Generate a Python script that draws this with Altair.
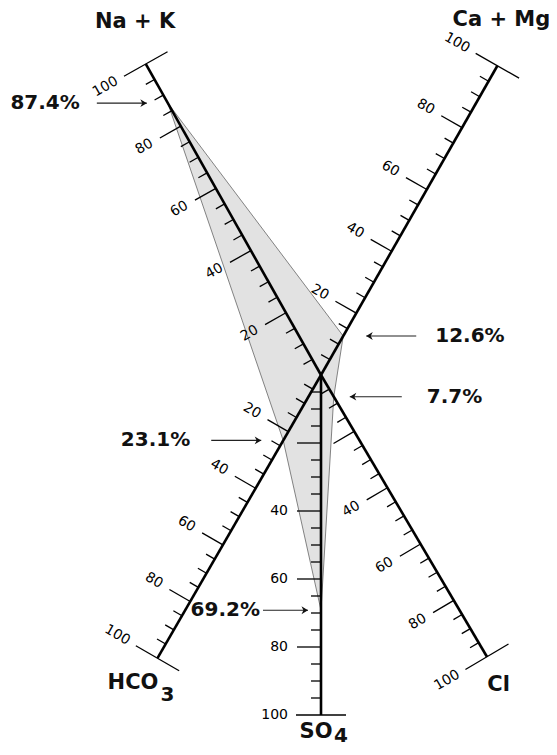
import math
import altair as alt
import pandas as pd

# ---------------- data ----------------
ion_names = ["Na + K", "Ca + Mg", "Cl", "SO4", "HCO3"]
percent_values = [87.4, 12.6, 7.7, 69.2, 23.1]
percent_labels = ["87.4%", "12.6%", "7.7%", "69.2%", "23.1%"]
scale_ticks = list(range(5, 100, 5))
labelled_ticks = {
    "Na + K": [20, 40, 60, 80, 100],
    "Ca + Mg": [20, 40, 60, 80, 100],
    "Cl": [40, 60, 80, 100],
    "SO4": [40, 60, 80, 100],
    "HCO3": [20, 40, 60, 80, 100],
}
title_main = {"Na + K": "Na + K", "Ca + Mg": "Ca + Mg", "Cl": "Cl", "SO4": "SO", "HCO3": "HCO"}
title_sub = {"SO4": "4", "HCO3": "3"}

# ---------------- layout ----------------
W, H, M = 541, 739, 8
CENTER = (321.0, 375.0)
AXIS_ANGLE = {"Na + K": -29.4, "Ca + Mg": 29.7, "Cl": 149.5, "SO4": 180.0, "HCO3": -150.0}
AXIS_LENGTH = {"Na + K": 357, "Ca + Mg": 356, "Cl": 327, "SO4": 340, "HCO3": 327}
TICK_SIDE = {"Na + K": 1, "Ca + Mg": 1, "Cl": -1, "SO4": -1, "HCO3": -1}
MAJOR, MINOR, CAP = 24, 10, 25
LABEL_OFFSET = 33
# side (-1 left / +1 right), gap to vertex, arrow length, gap to text
ARROW = {"Na + K": (-1, 21, 50, 17), "Ca + Mg": (1, 23, 50, 19), "Cl": (1, 16, 52, 25),
         "SO4": (-1, 13, 45, 3), "HCO3": (-1, 22, 50, 21)}
TITLE_OFFSET = {"Na + K": (-10.7, -42), "Ca + Mg": (4, -45.6), "Cl": (11.7, 28),
                "SO4": (-5, 16.5), "HCO3": (-24.5, 25.3)}
SUB_OFFSET = {"SO4": (20, 21), "HCO3": (10, 37)}
FONT = "DejaVu Sans"


def direction(name):
    a = math.radians(AXIS_ANGLE[name])
    return math.sin(a), -math.cos(a)


def point(name, pct):
    dx, dy = direction(name)
    L = AXIS_LENGTH[name] * pct / 100.0
    return CENTER[0] + dx * L, CENTER[1] + dy * L


def perp(name):
    dx, dy = direction(name)
    s = TICK_SIDE[name]
    return s * dy, -s * dx


# axis lines
axis_rows = []
for n in ion_names:
    ex, ey = point(n, 100)
    axis_rows.append({"x": CENTER[0], "y": CENTER[1], "x2": ex, "y2": ey})
axis_df = pd.DataFrame(axis_rows)

# ticks
tick_rows = []
for n in ion_names:
    px, py = perp(n)
    for p in scale_ticks:
        jx, jy = point(n, p)
        ln = MAJOR if p % 20 == 0 else MINOR
        tick_rows.append({"x": jx, "y": jy, "x2": jx + ln * px, "y2": jy + ln * py})
    ex, ey = point(n, 100)
    tick_rows.append({"x": ex - CAP * px, "y": ey - CAP * py, "x2": ex + CAP * px, "y2": ey + CAP * py})
tick_df = pd.DataFrame(tick_rows)

# tick labels
lab_rows = []
for n in ion_names:
    px, py = perp(n)
    ang = math.degrees(math.atan2(-py, -px)) % 360
    for p in labelled_ticks[n]:
        jx, jy = point(n, p)
        lab_rows.append({"x": jx + LABEL_OFFSET * px, "y": jy + LABEL_OFFSET * py,
                         "text": str(p), "angle": ang})
lab_df = pd.DataFrame(lab_rows)

# polygon
coords = [list(point(n, v)) for n, v in zip(ion_names, percent_values)]
coords.append(coords[0])
poly_data = alt.Data(values=[{"type": "Feature", "properties": {},
                              "geometry": {"type": "Polygon", "coordinates": [coords]}}])

# arrows and percent labels
arrow_rows, head_rows, left_txt, right_txt = [], [], [], []
for n, v, t in zip(ion_names, percent_values, percent_labels):
    vx, vy = point(n, v)
    s, g, ln, tg = ARROW[n]
    tipx = vx + s * g
    tailx = tipx + s * ln
    arrow_rows.append({"x": tailx, "y": vy, "x2": tipx, "y2": vy})
    head_rows.append({"x": tipx, "y": vy, "angle": 0 if s < 0 else 180})
    row = {"x": tailx + s * tg, "y": vy, "text": t}
    (left_txt if s < 0 else right_txt).append(row)
arrow_df = pd.DataFrame(arrow_rows)
head_df = pd.DataFrame(head_rows)

# titles
title_rows, sub_rows = [], []
for n in ion_names:
    ex, ey = point(n, 100)
    dx, dy = TITLE_OFFSET[n]
    title_rows.append({"x": ex + dx, "y": ey + dy, "text": title_main[n]})
    if n in title_sub:
        sx, sy = SUB_OFFSET[n]
        sub_rows.append({"x": ex + sx, "y": ey + sy, "text": title_sub[n]})
title_df = pd.DataFrame(title_rows)
sub_df = pd.DataFrame(sub_rows)

xs = alt.Scale(domain=[M, M + W], nice=False, zero=False)
ys = alt.Scale(domain=[M, M + H], nice=False, zero=False, reverse=True)
X = alt.X("x:Q", scale=xs, axis=None)
Y = alt.Y("y:Q", scale=ys, axis=None)

poly = alt.Chart(poly_data).mark_geoshape(
    fill="#e2e2e2", stroke="#666666", strokeWidth=0.8
).project(type="identity", scale=1, translate=[-M, -M])

axes_layer = alt.Chart(axis_df).mark_rule(color="black", strokeWidth=2.6).encode(
    x=X, y=Y, x2="x2:Q", y2="y2:Q")
ticks_layer = alt.Chart(tick_df).mark_rule(color="black", strokeWidth=1.3).encode(
    x=X, y=Y, x2="x2:Q", y2="y2:Q")
labels_layer = alt.Chart(lab_df).mark_text(
    align="right", baseline="middle", font=FONT, fontSize=14, color="black"
).encode(x=X, y=Y, text="text:N", angle=alt.Angle("angle:Q", scale=None))

arrows_layer = alt.Chart(arrow_df).mark_rule(color="#222222", strokeWidth=1.1).encode(
    x=X, y=Y, x2="x2:Q", y2="y2:Q")
heads_layer = alt.Chart(head_df).mark_point(
    shape="M0,0L-1,-0.6L-0.7,0L-1,0.6Z", filled=True, size=170, color="#111111", opacity=1
).encode(x=X, y=Y, angle=alt.Angle("angle:Q", scale=None))

pct_left = alt.Chart(pd.DataFrame(left_txt)).mark_text(
    align="right", baseline="middle", font=FONT, fontSize=20, fontWeight="bold", color="#111111"
).encode(x=X, y=Y, text="text:N")
pct_right = alt.Chart(pd.DataFrame(right_txt)).mark_text(
    align="left", baseline="middle", font=FONT, fontSize=20, fontWeight="bold", color="#111111"
).encode(x=X, y=Y, text="text:N")

titles_layer = alt.Chart(title_df).mark_text(
    align="center", baseline="middle", font=FONT, fontSize=21, fontWeight="bold", color="#111111"
).encode(x=X, y=Y, text="text:N")
subs_layer = alt.Chart(sub_df).mark_text(
    align="center", baseline="middle", font=FONT, fontSize=20, fontWeight="bold", color="#111111"
).encode(x=X, y=Y, text="text:N")

chart = alt.layer(
    poly, axes_layer, ticks_layer, labels_layer, arrows_layer, heads_layer,
    pct_left, pct_right, titles_layer, subs_layer
).properties(
    width=W, height=H, padding=0, autosize=alt.AutoSizeParams(type="none")
).configure_view(stroke=None)

chart.save("out.html", embed_options={"renderer": "svg", "actions": False})
